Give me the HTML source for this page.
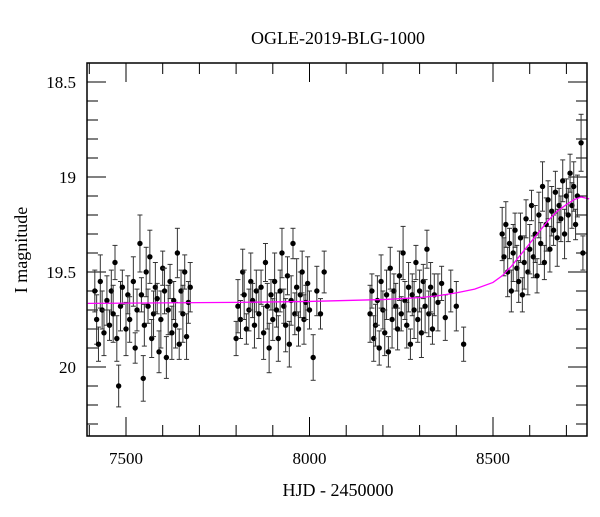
<!DOCTYPE html>
<html><head><meta charset="utf-8"><style>
body{margin:0;background:#fff}
svg text{font-family:"Liberation Serif",serif;fill:#000}
</style></head><body>
<svg id="chart" width="600" height="512" xmlns="http://www.w3.org/2000/svg">
<text x="338" y="44" font-size="18" text-anchor="middle">OGLE-2019-BLG-1000</text>
<text x="338" y="496" font-size="18" text-anchor="middle">HJD - 2450000</text>
<text x="0" y="0" font-size="18" text-anchor="middle" transform="translate(27,250) rotate(-90)">I magnitude</text>
<g id="ticks"></g><g id="data"></g><g id="model"></g>
<rect x="87" y="63" width="500" height="373" fill="none" stroke="#000" stroke-width="1.5"/>
</svg>
<script>
const times=[7415,7420,7425,7430,7435,7440,7448,7455,7460,7465,7470,7475,7480,7485,7490,7500,7505,7510,7520,7525,7530,7538,7542,7547,7550,7555,7560,7565,7570,7575,7580,7585,7590,7595,7600,7605,7610,7615,7620,7625,7630,7635,7640,7645,7650,7655,7660,7665,7670,7675,
7800,7805,7812,7818,7822,7828,7835,7840,7845,7850,7855,7862,7868,7875,7880,7885,7890,7895,7900,7905,7910,7915,7920,7925,7930,7935,7940,7945,7950,7955,7960,7965,7970,7975,7980,7985,7990,7995,8000,8010,8020,8030,8040,
8165,8170,8175,8180,8185,8190,8195,8200,8205,8210,8215,8220,8225,8230,8235,8240,8245,8250,8255,8260,8265,8270,8275,8280,8285,8290,8295,8300,8305,8310,8315,8320,8325,8330,8335,8340,8350,8360,8370,8385,8400,8420,
8525,8530,8535,8540,8545,8550,8555,8560,8565,8570,8575,8580,8585,8590,8595,8600,8605,8610,8615,8620,8625,8630,8635,8640,8645,8650,8655,8660,8665,8670,8675,8680,8685,8690,8695,8700,8705,8710,8715,8720,8725,8730,8740,8745];
const mags=[19.60,19.75,19.88,19.55,19.70,19.82,19.65,19.78,19.60,19.72,19.45,19.85,20.10,19.68,19.58,19.80,19.62,19.75,19.55,19.90,19.70,19.35,19.62,20.06,19.78,19.50,19.68,19.42,19.85,19.72,19.58,19.64,19.92,19.75,19.48,19.60,19.95,19.70,19.55,19.82,19.65,19.78,19.40,19.88,19.60,19.72,19.50,19.84,19.66,19.58,
19.85,19.68,19.75,19.50,19.62,19.80,19.70,19.55,19.65,19.78,19.60,19.72,19.58,19.82,19.45,19.68,19.90,19.62,19.75,19.55,19.70,19.85,19.60,19.40,19.68,19.78,19.52,19.88,19.65,19.35,19.72,19.58,19.80,19.62,19.50,19.75,19.66,19.56,19.70,19.95,19.60,19.72,19.50,
19.72,19.60,19.85,19.78,19.65,19.90,19.55,19.70,19.82,19.62,19.92,19.48,19.75,19.60,19.68,19.80,19.52,19.72,19.40,19.65,19.78,19.58,19.88,19.62,19.70,19.45,19.75,19.60,19.82,19.55,19.68,19.38,19.72,19.58,19.80,19.62,19.66,19.56,19.74,19.60,19.68,19.88,
19.30,19.42,19.25,19.50,19.35,19.60,19.40,19.28,19.48,19.55,19.32,19.62,19.45,19.22,19.50,19.38,19.15,19.42,19.30,19.52,19.20,19.35,19.05,19.45,19.25,19.12,19.38,19.18,19.28,19.08,19.32,19.15,19.22,19.02,19.30,19.10,19.20,18.98,19.15,19.05,19.25,19.10,18.82,19.40];
const errs=[0.11,0.13,0.09,0.14,0.10,0.12,0.13,0.08,0.11,0.15,0.09,0.12];
const modelT=[7396,7800,8000,8200,8300,8350,8400,8450,8500,8525,8550,8575,8600,8625,8650,8675,8700,8720,8740,8762];
const modelM=[19.665,19.66,19.655,19.645,19.635,19.625,19.61,19.59,19.555,19.52,19.47,19.41,19.35,19.29,19.23,19.18,19.145,19.12,19.105,19.115];
const xTicks=[7500,8000,8500];
const yTicks=[18.5,19,19.5,20];
const L=87,R=587,T=63,B=436;
const xs=t=>126+(t-7500)*0.367;
const ys=m=>82+(m-18.5)*190;
const NS="http://www.w3.org/2000/svg";
function mk(tag,attrs,parent){const e=document.createElementNS(NS,tag);for(const k in attrs)e.setAttribute(k,attrs[k]);parent.appendChild(e);return e;}
const tg=document.getElementById('ticks');
for(let t=7400;t<=8760;t+=100){const x=xs(t);if(x<L||x>R)continue;const big=t%500===0;
 const a=mk('line',{x1:x,x2:x,y1:B,y2:B-(big?19:11),stroke:'#000'},tg);
 
 
 const b=mk('line',{x1:x,x2:x,y1:T,y2:T+(big?19:11),stroke:'#000'},tg);
 
 }
for(let i=0;i<=19;i++){const m=18.4+i*0.1;const y=ys(m);if(y<T||y>B)continue;const big=Math.abs(m*2-Math.round(m*2))<1e-6;
 const a=mk('line',{x1:L,x2:L+(big?19:11),y1:y,y2:y,stroke:'#000'},tg);
 
 
 const b=mk('line',{x1:R,x2:R-(big?19:11),y1:y,y2:y,stroke:'#000'},tg);
 
 }
xTicks.forEach(t=>{const e=mk('text',{x:xs(t),y:464,'font-size':17,'text-anchor':'middle'},tg);e.textContent=t;
 
 });
yTicks.forEach(m=>{const e=mk('text',{x:76,y:ys(m)+6,'font-size':17,'text-anchor':'end'},tg);e.textContent=String(m);
 
 });
const dg=document.getElementById('data');
times.forEach((t,i)=>{const x=xs(t),y=ys(mags[i]),e=errs[i%errs.length],y1=ys(mags[i]-e),y2=ys(mags[i]+e);
 const g=mk('g',{},dg);
 
 
 mk('line',{x1:x,x2:x,y1:y1,y2:y2,stroke:'#333','stroke-width':1},g);
 mk('line',{x1:x-2.5,x2:x+2.5,y1:y1,y2:y1,stroke:'#333'},g);
 mk('line',{x1:x-2.5,x2:x+2.5,y1:y2,y2:y2,stroke:'#333'},g);
 mk('circle',{cx:x,cy:y,r:2.7,fill:'#000'},g);});
const mg=document.getElementById('model');
const p=mk('polyline',{points:modelT.map((t,i)=>xs(t)+','+ys(modelM[i])).join(' '),fill:'none',stroke:'#ff00ff','stroke-width':1.3},mg);


</script>
</body></html>
